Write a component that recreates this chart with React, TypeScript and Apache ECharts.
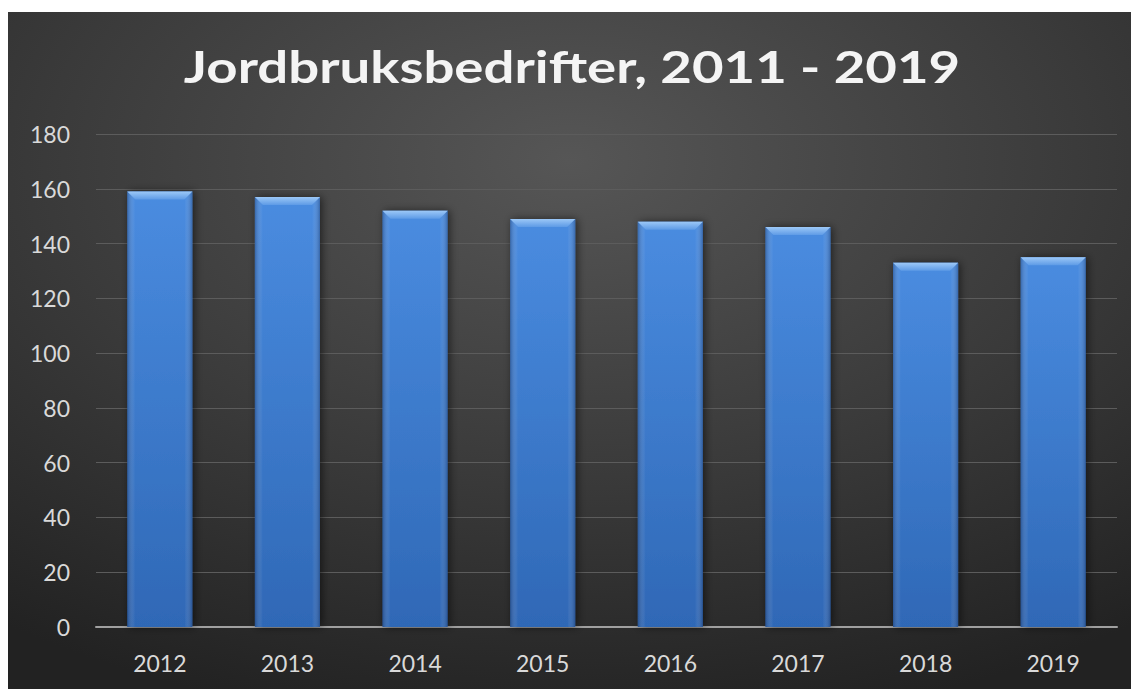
import React, { useEffect, useRef } from "react";
import * as echarts from "echarts";

const categories = ["2012", "2013", "2014", "2015", "2016", "2017", "2018", "2019"];
const values = [159, 157, 152, 149, 148, 146, 133, 135];
const titleText = "Jordbruksbedrifter, 2011 - 2019";
const yTicks = { min: 0, max: 180, interval: 20 };

export default function App() {
  const ref = useRef<HTMLDivElement>(null);
  useEffect(() => {
    if (!ref.current) return;
    const chart = echarts.init(ref.current, undefined, { renderer: "svg" });
    const bodyGrad = new echarts.graphic.LinearGradient(0, 0, 0, 1, [
      { offset: 0, color: "#4a8ce0" },
      { offset: 1, color: "#2f68b6" },
    ]);
    const sideGrad = new echarts.graphic.LinearGradient(0, 0, 1, 0, [
      { offset: 0, color: "rgba(20,40,80,0.35)" },
      { offset: 0.12, color: "rgba(255,255,255,0)" },
      { offset: 0.88, color: "rgba(255,255,255,0)" },
      { offset: 1, color: "rgba(20,40,80,0.35)" },
    ]);
    const bevelGrad = new echarts.graphic.LinearGradient(0, 0, 0, 1, [
      { offset: 0, color: "#9cc8f7" },
      { offset: 1, color: "#5e9be6" },
    ]);
    chart.setOption({
      animation: false,
      backgroundColor: new echarts.graphic.RadialGradient(0.5, 0.22, 0.85, [
        { offset: 0, color: "#565656" },
        { offset: 0.55, color: "#3a3a3a" },
        { offset: 1, color: "#222222" },
      ]),
      graphic: [
        {
          type: "text",
          x: 564,
          y: 54,
          scaleX: 1.24,
          scaleY: 1,
          style: {
            text: titleText,
            fontFamily: "Lato",
            fontWeight: "bold",
            fontSize: 44,
            fill: "#f4f4f4",
            align: "center",
            verticalAlign: "middle",
            shadowColor: "rgba(0,0,0,0.65)",
            shadowBlur: 4,
            shadowOffsetX: 2,
            shadowOffsetY: 2,
          },
        },
      ],
      grid: { left: 88, right: 14, top: 122, bottom: 62, containLabel: false },
      xAxis: {
        type: "category",
        data: categories,
        axisTick: { show: false },
        axisLine: { lineStyle: { color: "#a0a0a0", width: 2 } },
        axisLabel: { color: "#d9d9d9", fontFamily: "Lato", fontSize: 23, margin: 24 },
      },
      yAxis: {
        type: "value",
        min: yTicks.min,
        max: yTicks.max,
        interval: yTicks.interval,
        axisLine: { show: false },
        axisTick: { show: false },
        axisLabel: { color: "#d9d9d9", fontFamily: "Lato", fontSize: 23, margin: 26 },
        splitLine: { lineStyle: { color: "#5c5c5c", width: 1 } },
      },
      series: [
        {
          type: "custom",
          data: values.map((v, i) => [i, v]),
          encode: { x: 0, y: 1 },
          renderItem: (params: any, api: any) => {
            const idx = api.value(0);
            const val = api.value(1);
            const top = api.coord([idx, val]);
            const base = api.coord([idx, 0]);
            const band = api.size([1, 0])[0];
            const w = band * 0.51;
            const x0 = top[0] - w / 2;
            const x1 = top[0] + w / 2;
            const y0 = top[1];
            const y1 = base[1];
            const b = 8;
            return {
              type: "group",
              children: [
                {
                  type: "rect",
                  shape: { x: x0, y: y0, width: w, height: y1 - y0 },
                  style: {
                    fill: bodyGrad,
                    shadowBlur: 8,
                    shadowColor: "rgba(0,0,0,0.55)",
                    shadowOffsetX: 2,
                    shadowOffsetY: 0,
                  },
                },
                {
                  type: "rect",
                  shape: { x: x0, y: y0, width: w, height: y1 - y0 },
                  style: { fill: sideGrad },
                },
                {
                  type: "polygon",
                  shape: {
                    points: [
                      [x0, y0],
                      [x1, y0],
                      [x1 - b, y0 + b],
                      [x0 + b, y0 + b],
                    ],
                  },
                  style: { fill: bevelGrad },
                },
              ],
            };
          },
        },
      ],
    });
    return () => chart.dispose();
  }, []);
  return (
    <div
      ref={ref}
      style={{ position: "absolute", left: 8, top: 12, width: 1123, height: 677 }}
    />
  );
}
